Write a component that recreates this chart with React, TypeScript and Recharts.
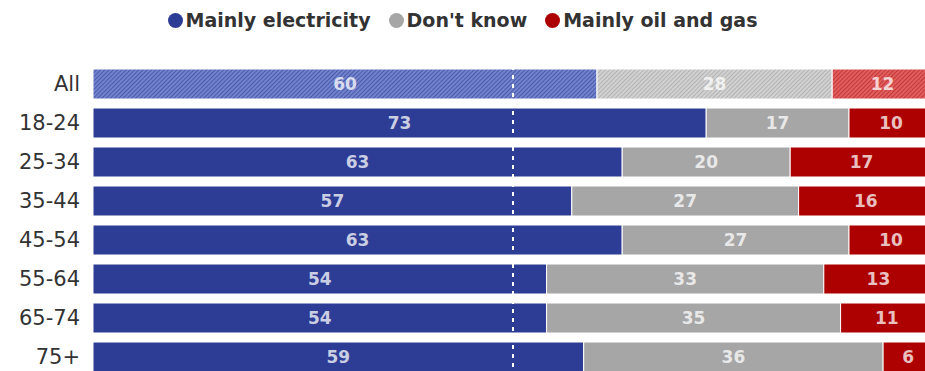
import React from "react";
import {
    BarChart,
    Bar,
    XAxis,
    YAxis,
    Cell,
    LabelList,
    ReferenceLine,
    Legend,
} from "recharts";

const groups = ["All", "18-24", "25-34", "35-44", "45-54", "55-64", "65-74", "75+"];
const electricity = [60, 73, 63, 57, 63, 54, 54, 59];
const dontKnow = [28, 17, 20, 27, 27, 33, 35, 36];
const oilGas = [12, 10, 17, 16, 10, 13, 11, 6];

const SERIES = [
    { key: "elec", name: "Mainly electricity", color: "#2d3c94", hatch: "hatchBlue" },
    { key: "dk", name: "Don't know", color: "#a6a6a6", hatch: "hatchGrey" },
    { key: "oil", name: "Mainly oil and gas", color: "#ad0000", hatch: "hatchRed" },
];

const data = groups.map((group, i) => ({
    group,
    elec: electricity[i],
    dk: dontKnow[i],
    oil: oilGas[i],
}));

const BOLD_FONT = "'DejaVu Sans', Verdana, sans-serif";

// Value label, centred in each segment
const renderValue = ({ x, y, width, height, value }: any) => (
    <text
        x={x + width / 2}
        y={y + height / 2}
        fill="#fff"
        fillOpacity={0.75}
        fontSize={17}
        fontWeight={700}
        fontFamily={BOLD_FONT}
        textAnchor="middle"
        dominantBaseline="central"
    >
        {value}
    </text>
);

const renderLegend = () => (
    <div
        style={{
            display: "flex",
            justifyContent: "center",
            alignItems: "center",
            height: 40,
            fontFamily: BOLD_FONT,
            fontWeight: 700,
            fontSize: 19,
            color: "#333",
        }}
    >
        {SERIES.map((s) => (
            <span
                key={s.key}
                style={{ display: "flex", alignItems: "center", margin: "0 9px" }}
            >
                <span
                    style={{
                        width: 15,
                        height: 15,
                        borderRadius: "50%",
                        background: s.color,
                        marginRight: 3,
                        display: "inline-block",
                    }}
                />
                {s.name}
            </span>
        ))}
    </div>
);

const App: React.FC = () => {
    return (
        <div
            style={{
                position: "absolute",
                left: 0,
                top: 0,
                width: 925,
                height: 371,
                overflow: "hidden",
                background: "#fff",
            }}
        >
            <BarChart
                width={950}
                height={390}
                data={data}
                layout="vertical"
                stackOffset="expand"
                margin={{ top: 24, right: 17, bottom: 14, left: 0 }}
            >
                <defs>
                    <pattern id="hatchBlue" patternUnits="userSpaceOnUse" width="3" height="3" patternTransform="rotate(45)">
                        <rect width="3" height="3" fill="#7484cc" />
                        <line x1="0" y1="0" x2="0" y2="3" stroke="#4a5aae" strokeWidth="2.2" />
                    </pattern>
                    <pattern id="hatchGrey" patternUnits="userSpaceOnUse" width="3" height="3" patternTransform="rotate(45)">
                        <rect width="3" height="3" fill="#d2d2d2" />
                        <line x1="0" y1="0" x2="0" y2="3" stroke="#b4b4b4" strokeWidth="2.2" />
                    </pattern>
                    <pattern id="hatchRed" patternUnits="userSpaceOnUse" width="3" height="3" patternTransform="rotate(45)">
                        <rect width="3" height="3" fill="#e06060" />
                        <line x1="0" y1="0" x2="0" y2="3" stroke="#c83838" strokeWidth="2.2" />
                    </pattern>
                </defs>
                <Legend
                    verticalAlign="top"
                    align="center"
                    content={renderLegend}
                    wrapperStyle={{ top: 0, left: 0, width: 925 }}
                />
                <XAxis type="number" hide domain={[0, 1]} />
                <YAxis
                    type="category"
                    dataKey="group"
                    width={93}
                    axisLine={false}
                    tickLine={false}
                    tickSize={0}
                    tickMargin={13}
                    tick={{ fill: "#333", fontSize: 21, fontFamily: "'DejaVu Sans', sans-serif" }}
                />
                {SERIES.map((s) => (
                    <Bar
                        key={s.key}
                        dataKey={s.key}
                        name={s.name}
                        stackId="a"
                        fill={s.color}
                        stroke="#fff"
                        strokeWidth={1}
                        barSize={30}
                        isAnimationActive={false}
                    >
                        {data.map((_, i) => (
                            <Cell key={i} fill={i === 0 ? `url(#${s.hatch})` : s.color} />
                        ))}
                        <LabelList dataKey={s.key} content={renderValue} />
                    </Bar>
                ))}
                <ReferenceLine x={0.5} stroke="#fff" strokeWidth={2} strokeDasharray="4 5" />
            </BarChart>
        </div>
    );
};

export default App;
